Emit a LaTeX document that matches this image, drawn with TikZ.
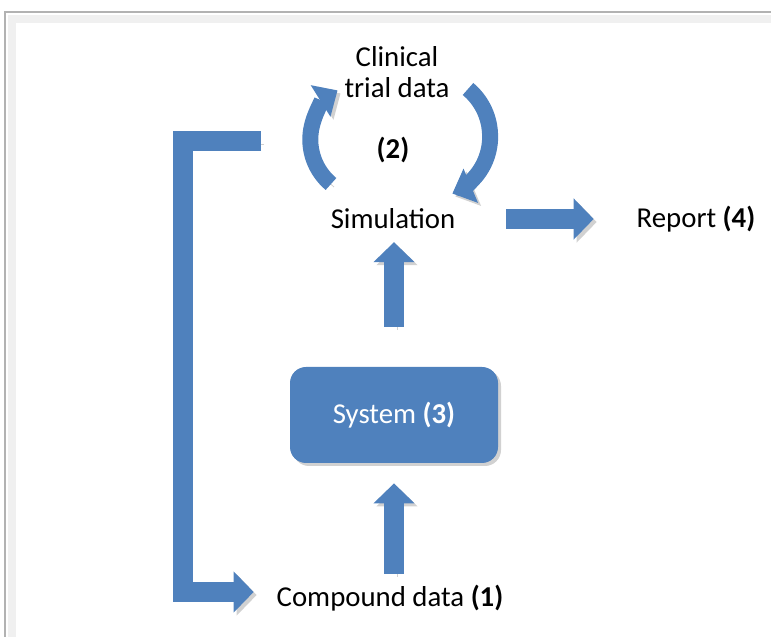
\documentclass[tikz,border=0pt]{standalone}
\usepackage{fontspec}
\setmainfont{Carlito}
\usetikzlibrary{positioning}
\usetikzlibrary{arrows.meta, shapes, calc}
\definecolor{boxblue}{RGB}{79,129,189}

\begin{document}
\begin{tikzpicture}[x=0.5pt, y=0.5pt, font=\fontsize{14.4}{15.5}\selectfont,
    fat/.style={draw=boxblue, line width=10pt, line join=miter, -{Triangle[width=20pt, length=10pt]},
        preaction={draw=black!18, transform canvas={shift={(1.5pt,-1.5pt)}}}},
    curl/.style={fat, line width=8pt, -{Triangle[width=18pt, length=10pt]}}]
    \useasboundingbox (0,0) rectangle (771,637);

    % Frame
    \draw[black!6, line width=4pt] (12,0) -- (12,618) -- (771,618);
    \draw[black!30, line width=0.8pt] (5,0) -- (5,625) -- (771,625);

    % Nodes
    \node[align=center] (clinical) at (397,565) {Clinical\\trial data};
    \node[font=\fontsize{14.4}{15.5}\selectfont\bfseries] (cycleno) at (393,487) {(2)};
    \node (sim) at (393,418) {Simulation};
    \node (report) at (696,418) {Report \textbf{(4)}};
    \node[fill=boxblue, text=white, rounded corners=8pt, minimum width=104pt, minimum height=48pt,
        preaction={fill=black!18, transform canvas={shift={(1.5pt,-1.5pt)}}}]
        (system) at (394,222) {System \textbf{(3)}};
    \node (compound) at (390,39) {Compound data \textbf{(1)}};
    \coordinate (fb) at (261,496);

    % Arrows
    \draw[fat] ([yshift=20pt]system.north) -- ([yshift=-3pt]system.north |- sim.south);
    \draw[fat] ([yshift=2pt]system.south |- compound.north) -- ([yshift=-10pt]system.south);
    \draw[fat] ([xshift=22pt]sim.east) -- ([xshift=-18pt]report.west);
    \draw[fat] (fb) -- ++(-78,0) |- ([xshift=-8pt, yshift=3pt]compound.west);

    % Cycle
    \draw[curl] ($(sim.center)+(-62,35)$) arc[start angle=230, end angle=122, radius=58];
    \draw[curl] ($(clinical.center)+(71,-17)$) arc[start angle=50, end angle=-67, radius=62];
\end{tikzpicture}
\end{document}
